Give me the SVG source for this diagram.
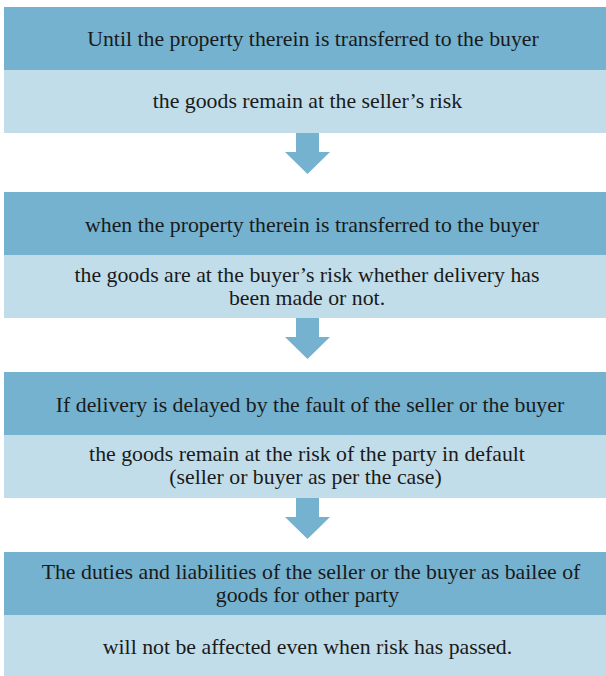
<svg xmlns="http://www.w3.org/2000/svg" width="606" height="676" viewBox="0 0 606 676">
<style>
.hd{fill:#75B2CF}
.bd{fill:#C1DDEA}
.ar{fill:#75B2CF}
text{font-family:"Liberation Serif","DejaVu Serif",serif;font-size:21.8px;fill:#1a1a1a;text-anchor:middle}
</style>
<rect width="606" height="676" fill="#ffffff"/>
<g id="node1">
<rect class="hd" x="4" y="7" width="602" height="63"/>
<text x="313" y="46">Until the property therein is transferred to the buyer</text>
<rect class="bd" x="4" y="70" width="602" height="63"/>
<text x="307.5" y="108">the goods remain at the seller’s risk</text>
</g>
<g id="node2">
<rect class="hd" x="4" y="192" width="602" height="63"/>
<text x="312" y="232">when the property therein is transferred to the buyer</text>
<rect class="bd" x="4" y="255" width="602" height="63"/>
<text x="307" y="282">the goods are at the buyer’s risk whether delivery has</text>
<text x="307" y="305">been made or not.</text>
</g>
<g id="node3">
<rect class="hd" x="4" y="372" width="602" height="63"/>
<text x="310" y="412">If delivery is delayed by the fault of the seller or the buyer</text>
<rect class="bd" x="4" y="435" width="602" height="63"/>
<text x="307" y="461">the goods remain at the risk of the party in default</text>
<text x="305.5" y="484">(seller or buyer as per the case)</text>
</g>
<g id="node4">
<rect class="hd" x="4" y="552" width="602" height="63"/>
<text x="311" y="579">The duties and liabilities of the seller or the buyer as bailee of</text>
<text x="307.5" y="602">goods for other party</text>
<rect class="bd" x="4" y="615" width="602" height="61"/>
<text x="307.5" y="654">will not be affected even when risk has passed.</text>
</g>
<g id="connectors">
<polygon class="ar" points="296,133 319,133 319,152 330,152 307.5,174 285,152 296,152"/>
<polygon class="ar" points="296,318 319,318 319,337 330,337 307.5,359 285,337 296,337"/>
<polygon class="ar" points="296,498 319,498 319,517 330,517 307.5,539 285,517 296,517"/>
</g>
</svg>
